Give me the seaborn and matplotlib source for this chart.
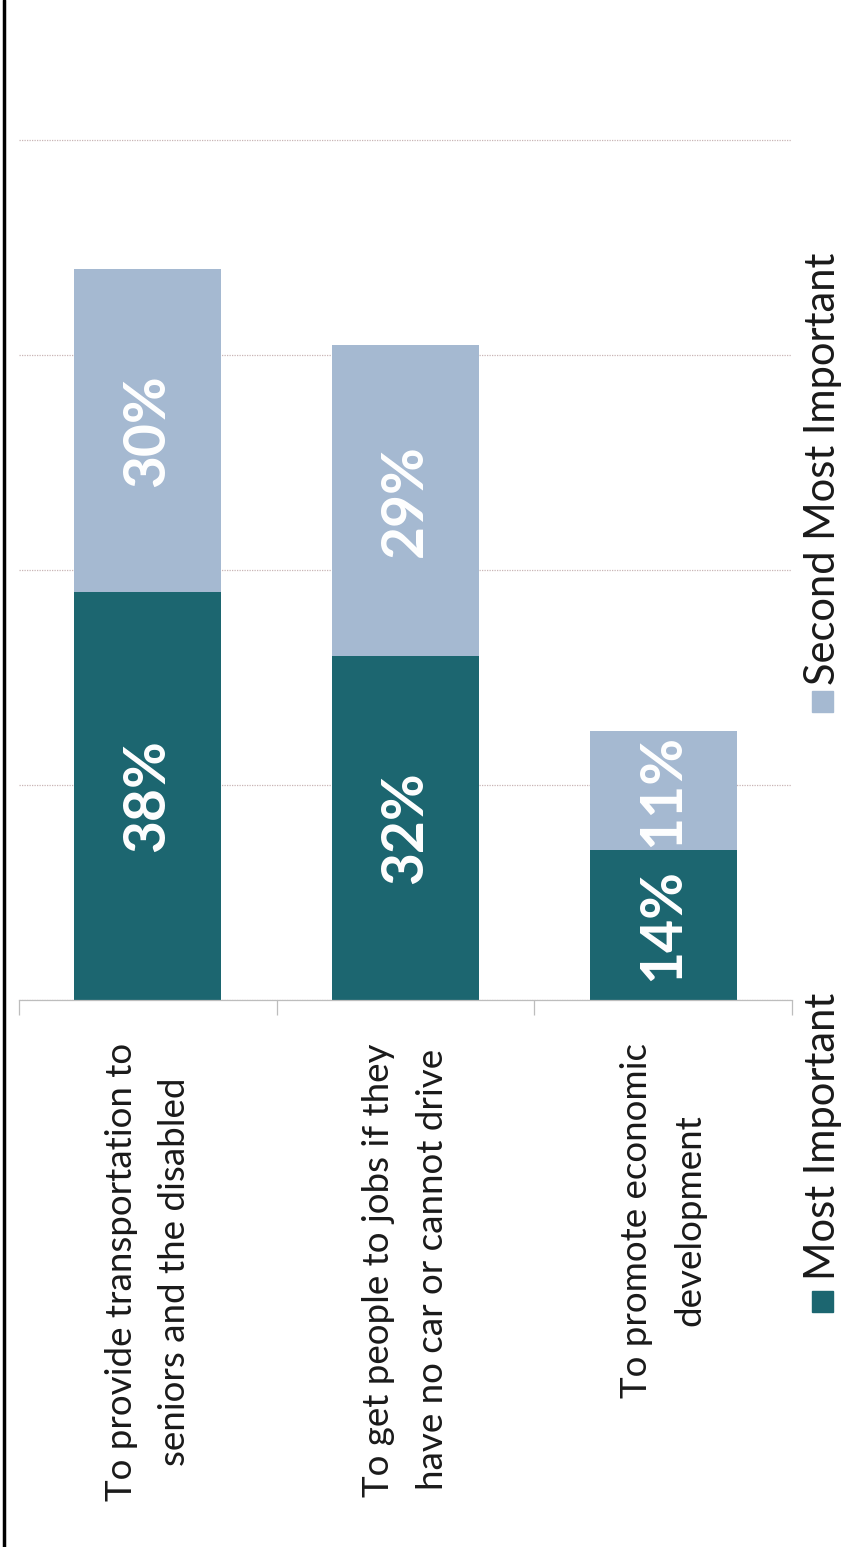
import matplotlib
matplotlib.use("Agg")
import matplotlib.pyplot as plt
import seaborn as sns
from matplotlib.lines import Line2D
from matplotlib.patches import Rectangle

# dados
categorias = [
    "To provide transportation to\nseniors and the disabled",
    "To get people to jobs if they\nhave no car or cannot drive",
    "To promote economic\ndevelopment",
]
most_important = [38, 32, 14]
second_most = [30, 29, 11]
series_names = ["Most Important", "Second Most Important"]

COR_ESCURA = "#1c6670"
COR_CLARA = "#a5b9d1"

total = [a + b for a, b in zip(most_important, second_most)]

sns.set_theme(style="white")
plt.rcParams['font.family'] = ['Lato', 'DejaVu Sans']

fig = plt.figure(figsize=(8.45, 15.47), dpi=100)
ax = fig.add_axes([19 / 845, (1547 - 1000) / 1547, 773 / 845, (1000 - 135) / 1547])

# barra total (clara) por baixo, depois a parte "Most Important" (escura)
sns.barplot(x=categorias, y=total, color=COR_CLARA, width=0.57, saturation=1, linewidth=0, ax=ax)
sns.barplot(x=categorias, y=most_important, color=COR_ESCURA, width=0.57, saturation=1, linewidth=0, ax=ax)

for i, (m, s) in enumerate(zip(most_important, second_most)):
    ax.text(i, m / 2, f"{m}%", rotation=90, ha='center', va='center',
            color='white', fontsize=41, fontweight='bold')
    ax.text(i, m + s / 2, f"{s}%", rotation=90, ha='center', va='center',
            color='white', fontsize=41, fontweight='bold')

ax.set_xlim(-0.5, 2.5)
ax.set_ylim(0, 80.5)
ax.set_yticks([0, 20, 40, 60, 80])
ax.yaxis.grid(True, linestyle=(0, (1, 1)), color='#c9b5b5', linewidth=0.9)
ax.set_axisbelow(True)
ax.tick_params(axis='y', length=0, labelleft=False)

for lado in ['top', 'left', 'right']:
    ax.spines[lado].set_visible(False)
ax.spines['bottom'].set_color('#bdbdbd')
ax.spines['bottom'].set_linewidth(0.9)

ax.set_xticks([0, 1, 2])
ax.set_xticklabels(categorias, rotation=90, ha='center', va='top',
                   multialignment='center', linespacing=1.75, fontsize=26.5, color='#1a1a1a')
ax.set_xticks([-0.5, 0.5, 1.5, 2.5], minor=True)
ax.tick_params(axis='x', which='major', length=0, pad=31)
ax.tick_params(axis='x', which='minor', length=11, width=0.9, color='#bdbdbd', bottom=True)
ax.set_xlabel('')
ax.set_ylabel('')

# legenda girada, desenhada à mão
legenda = [
    (series_names[0], COR_ESCURA, 1280, 1312),
    (series_names[1], COR_CLARA, 685, 712),
]
for nome, cor, y_txt, y_quad in legenda:
    fig.patches.append(Rectangle((812 / 845, (1547 - y_quad) / 1547), 21 / 845, 21 / 1547,
                                 transform=fig.transFigure, color=cor))
    fig.text(823 / 845, (1547 - y_txt) / 1547, nome, rotation=90, ha='center', va='bottom',
             fontsize=30, color='#1a1a1a')

# linha preta na margem esquerda (borda da página)
fig.add_artist(Line2D([4.5 / 845, 4.5 / 845], [0, 1], color='black', linewidth=2.5,
                      transform=fig.transFigure))

fig.savefig('out.png', dpi=100)
